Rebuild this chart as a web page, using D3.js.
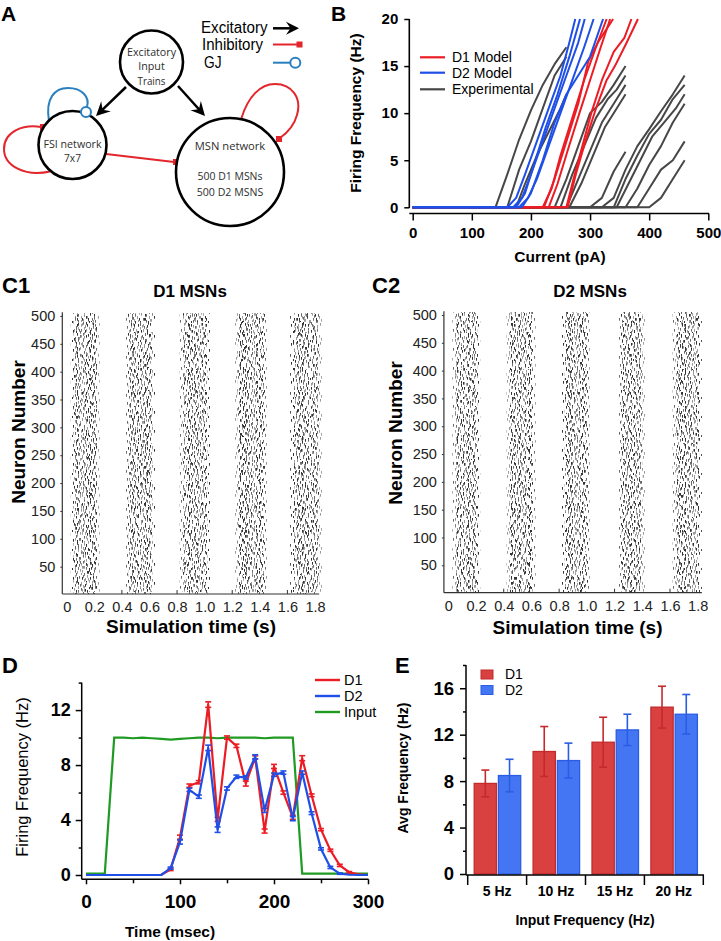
<!DOCTYPE html>
<html><head><meta charset="utf-8">
<script src="https://cdn.jsdelivr.net/npm/d3@7"></script>
<style>
body{margin:0;background:#fff;}
svg{display:block;font-family:"Liberation Sans",Arial,sans-serif;}
</style></head><body>
<svg id="fig" width="721" height="941"></svg>
<script>
// ================= DATA =================
// Panel A (schematic)
const excLines = ["Excitatory","Input","Trains"];
const fsiLines = ["FSI network","7x7"];
const msnLines = ["MSN network","500 D1 MSNs","500 D2 MSNS"];
const legendALabels = ["Excitatory","Inhibitory","GJ"];

// Panel B: f-I curves [current pA, firing Hz]
const bXTicks = [0,100,200,300,400,500];
const bYTicks = [0,5,10,15,20];
const bLegend = ["D1 Model","D2 Model","Experimental"];
const experimentalCurves = [
  [[0,0],[140,0],[160,3.5],[180,7.2],[200,10.3],[220,13],[240,15.2],[260,17]],
  [[0,0],[160,0],[180,4],[200,7],[220,10.5],[240,14],[260,16]],
  [[0,0],[175,0],[190,2.5],[210,5.5],[230,8],[250,10.5],[260,12]],
  [[0,0],[240,0],[260,3],[280,6.5],[300,10],[320,11.2],[340,13],[360,15]],
  [[0,0],[250,0],[270,3.5],[290,6.5],[310,9.5],[330,11.5],[345,12.5],[360,14]],
  [[0,0],[260,0],[280,3],[300,6],[320,9],[340,11],[360,13]],
  [[0,0],[265,0],[285,2.5],[305,5.5],[325,8.5],[345,10.5],[360,12]],
  [[0,0],[300,0],[320,1],[340,3.8],[360,5.9]],
  [[0,0],[320,0],[340,1],[360,4],[380,6.5],[400,8.3],[420,10.2],[440,12],[460,14]],
  [[0,0],[340,0],[360,3],[380,5.5],[400,7.8],[420,9.3],[440,11.5],[460,13]],
  [[0,0],[345,0],[365,2.5],[385,5],[405,7.5],[425,9],[445,10.5],[460,12]],
  [[0,0],[360,0],[380,2],[400,4.5],[420,6.5],[440,9],[460,11]],
  [[0,0],[380,0],[400,2],[420,4],[440,5],[460,7]],
  [[0,0],[400,0],[420,1],[440,3],[460,5]]
];
const d1ModelCurves = [
  [[0,0],[220,0],[235,2],[250,5.5],[270,9.5],[290,13.5],[310,17],[328,20]],
  [[0,0],[222,0],[240,3],[260,7],[280,11],[297,15.5],[314,17.6],[339,20]],
  [[0,0],[230,0],[245,2.5],[262,6],[282,10],[300,13.5],[318,17],[334,20]],
  [[0,0],[260,0],[272,3],[287,6.5],[302,10],[320,13.5],[340,16.5],[358,18],[370,20]],
  [[0,0],[262,0],[276,3.5],[292,7],[310,10.5],[328,13.5],[342,15],[362,17.5],[381,20]]
];
const d2ModelCurves = [
  [[0,0],[160,0],[175,1],[190,3.5],[210,7],[230,10.5],[250,14],[265,17.5],[275,20]],
  [[0,0],[175,0],[190,1.5],[205,4.5],[225,8.5],[245,12],[265,16],[283,20]],
  [[0,0],[170,0],[185,1],[200,3.5],[220,7],[240,10.5],[260,14],[280,17.5],[291,20]],
  [[0,0],[180,0],[195,1],[210,3],[230,6.5],[250,10],[270,13.5],[290,17],[306,20]],
  [[0,0],[185,0],[200,1.5],[220,5],[240,9],[260,12],[280,14],[300,16],[322,20]]
];

// Panel C: raster burst windows [start s, end s] (neurons 1..500)
const rasterXTicks = [0,0.2,0.4,0.6,0.8,1.0,1.2,1.4,1.6,1.8];
const rasterYTicks = [50,100,150,200,250,300,350,400,450,500];
const d1Bursts = [[0.05,0.22],[0.45,0.62],[0.84,1.02],[1.24,1.43],[1.64,1.83]];
const d2Bursts = [[0.05,0.21],[0.44,0.61],[0.84,1.00],[1.25,1.40],[1.64,1.81]];

// Panel D: time courses
const timeMs = [0,10,20,30,40,50,60,70,80,90,100,110,120,130,140,150,160,170,180,190,200,210,220,230,240,250,260,270,280,290,300];
const d1Rate = [0,0,0,0,0,0,0,0,0.02,0.4,2.75,6.5,6.75,12.4,4.05,10.0,9.4,6.65,8.55,3.2,7.9,6.0,4.2,8.5,5.8,3.3,1.8,0.7,0.2,0.05,0];
const d1Err  = [0,0,0,0,0,0,0,0,0,0.08,0.15,0.12,0.12,0.2,0.15,0.12,0.12,0.18,0.12,0.15,0.15,0.12,0.15,0.18,0.1,0.08,0.08,0.08,0.05,0,0];
const d2Rate = [0,0,0,0,0,0,0,0,0,0.5,2.4,6.2,5.7,9.25,3.3,6.3,7.15,7.1,8.6,4.7,7.3,7.45,4.1,7.45,4.5,1.9,0.55,0.1,0.02,0,0];
const d2Err  = [0,0,0,0,0,0,0,0,0,0.08,0.15,0.12,0.12,0.2,0.2,0.12,0.12,0.12,0.15,0.15,0.12,0.12,0.15,0.12,0.1,0.08,0.08,0.05,0,0,0];
const inputRate = [0.1,0.1,0.1,10.0,10.0,9.95,10.0,9.95,9.9,9.85,9.9,9.95,10.0,10.0,9.95,10.0,10.0,10.0,10.0,9.95,10.0,10.0,10.0,0.1,0.1,0.1,0.1,0.1,0.1,0.1,0.1];
const dLegend = ["D1","D2","Input"];
const dXTicks = [0,100,200,300];
const dYTicks = [0,4,8,12];

// Panel E: average frequency
const inputFreqs = ["5 Hz","10 Hz","15 Hz","20 Hz"];
const eSeries = ["D1","D2"];
const d1Avg = [7.8,10.55,11.35,14.37];
const d1AvgErr = [1.15,2.15,2.15,1.8];
const d2Avg = [8.48,9.77,12.41,13.76];
const d2AvgErr = [1.4,1.5,1.35,1.7];
const eYTicks = [0,4,8,12,16];

// ================= STYLE / TEXTURE =================
const C = {red:"#ec1c24", blue:"#1f4fe6", gray:"#474747", green:"#1f9a22",
  barRed:"#d94141", barRedS:"#c42a2c", barBlue:"#4476f4", barBlueS:"#2a5ce4",
  diagRed:"#e3262c", diagBlue:"#2a7fbf"};
// hand-placed dash positions of the raster texture tiles (pure texture, not data)
const tileA = [[3,2],[11,0],[17,4],[26,1],[29,7],[6,8],[14,9],[21,6],[1,13],[9,15],[24,12],[18,14],[28,17],[4,19],[13,20],[20,22],[7,24],[26,23],[16,27],[2,28],[10,30],[23,29],[29,32],[5,34],[14,35],[19,33],[27,36],[12,5],[22,18],[0,24],[8,11],[25,9],[15,16],[3,31],[18,2],[30,26],[11,25],[6,3],[20,11],[27,14],[9,21],[16,31],[23,34],[1,36],[13,13],[24,26],[4,15],[19,28],[10,36],[28,4],[7,29],[15,22],[21,0],[25,20],[2,7],[17,9],[12,33],[29,12],[8,18],[22,31]];
const tileB = [[2,1],[8,3],[14,0],[5,7],[11,6],[16,9],[1,12],[7,14],[13,12],[4,17],[10,16],[15,15],[9,10]];
const tileC = [[1,2],[7,0],[13,5],[17,1],[4,9],[10,7],[16,12],[2,15],[8,14],[12,19],[18,18],[5,21],[14,10],[0,6],[9,3],[15,22]];
const dashShades = ["#333333","#6a6a6a","#9a9a9a"];

const svg = d3.select("#fig");
const defs = svg.append("defs");
function makePattern(id,w,h,pts){
  const p = defs.append("pattern").attr("id",id).attr("patternUnits","userSpaceOnUse").attr("width",w).attr("height",h);
  p.selectAll("rect").data(pts).join("rect")
    .attr("x",d=>d[0]).attr("y",d=>d[1]).attr("width",1).attr("height",2.7)
    .attr("fill",(d,i)=> dashShades[i%3]);
}
makePattern("rasA",31,37,tileA);
makePattern("rasB",17,19,tileB);
makePattern("rasC",19,23,tileC);

function label(g,x,y,txt,size,weight,anchor){
  return g.append("text").attr("x",x).attr("y",y).text(txt)
    .attr("font-size",size).attr("font-weight",weight||"normal")
    .attr("text-anchor",anchor||"start").attr("fill","#000");
}
function vlabel(g,x,y,txt,size,weight){
  return g.append("text").attr("transform",`translate(${x},${y}) rotate(-90)`).text(txt)
    .attr("font-size",size).attr("font-weight",weight||"normal").attr("text-anchor","middle").attr("fill","#000");
}
function styleAxis(g,size,weight){
  g.select(".domain").remove();
  g.selectAll(".tick line").attr("stroke","#000").attr("stroke-width",1.5);
  g.selectAll(".tick text").attr("font-size",size).attr("font-weight",weight).attr("fill","#000")
    .attr("font-family","'Liberation Sans',Arial,sans-serif");
}

// ================= PANEL A =================
(function(){
  const g = svg.append("g");
  label(g,1,20.5,"A",21,"bold");
  const L = {exc:{cx:151.5,cy:62,r:31.5}, fsi:{cx:72.5,cy:145,r:34}, msn:{cx:230,cy:172,r:54}};
  g.append("path").attr("d","M50,171.5 C25,177 4,166 4,149 C4,131 24,124 41,127")
    .attr("fill","none").attr("stroke",C.diagRed).attr("stroke-width",2);
  g.append("rect").attr("x",40).attr("y",124).attr("width",6).attr("height",6).attr("fill",C.diagRed);
  g.append("path").attr("d","M49,121 C45,98 55,88 68,88 C82,88 90,97 87,107")
    .attr("fill","none").attr("stroke",C.diagBlue).attr("stroke-width",2);
  g.append("line").attr("x1",106).attr("y1",154).attr("x2",174).attr("y2",162)
    .attr("stroke",C.diagRed).attr("stroke-width",2);
  g.append("rect").attr("x",173).attr("y",159).attr("width",6).attr("height",6).attr("fill",C.diagRed);
  g.append("path").attr("d","M241.5,118 C248,97 260,84 275,84 C292,84 302,98 297,115 C294,126 287,133 280,138")
    .attr("fill","none").attr("stroke",C.diagRed).attr("stroke-width",2);
  g.append("rect").attr("x",276).attr("y",136).attr("width",6).attr("height",6).attr("fill",C.diagRed);
  function arrow(x1,y1,x2,y2,s){
    const a = Math.atan2(y2-y1,x2-x1);
    const bx = x2 - Math.cos(a)*s*0.6, by = y2 - Math.sin(a)*s*0.6;
    g.append("line").attr("x1",x1).attr("y1",y1).attr("x2",bx).attr("y2",by).attr("stroke","#000").attr("stroke-width",2.5);
    const pts = [[0,0],[-s,-s*0.5],[-s*0.65,0],[-s,s*0.5]].map(p=>[
      x2 + p[0]*Math.cos(a) - p[1]*Math.sin(a), y2 + p[0]*Math.sin(a) + p[1]*Math.cos(a)]);
    g.append("path").attr("d","M"+pts.map(p=>p.join(",")).join("L")+"Z").attr("fill","#000");
  }
  arrow(126,87,96,116,14);
  arrow(178,86,205,116,14);
  Object.values(L).forEach(n=>{
    g.append("circle").attr("cx",n.cx).attr("cy",n.cy).attr("r",n.r).attr("fill","#fff").attr("stroke","#000").attr("stroke-width",2.6);
  });
  g.append("circle").attr("cx",86).attr("cy",112).attr("r",5).attr("fill","#fff").attr("stroke",C.diagBlue).attr("stroke-width",2);
  function nodeText(x,y,txt,w){
    g.append("text").attr("x",x).attr("y",y).text(txt).attr("text-anchor","middle")
      .attr("font-family","'Open Sans',sans-serif").attr("font-size",11).attr("fill","#2e2e2e")
      .attr("textLength",w).attr("lengthAdjust","spacingAndGlyphs");
  }
  const excY=[55.5,70,85], excW=[49,26.5,28];
  excLines.forEach((t,i)=>nodeText(151.5,excY[i],t,excW[i]));
  const fsiY=[147.5,162], fsiW=[58,17];
  fsiLines.forEach((t,i)=>nodeText(72.5,fsiY[i],t,fsiW[i]));
  const msnY=[149.5,179.5,195.5], msnW=[70.5,65,66.5];
  msnLines.forEach((t,i)=>nodeText(230,msnY[i],t,msnW[i]));
  const lx=[201,202,204], ly=[33.3,50,68.3], lw=[66.5,61,17.5];
  legendALabels.forEach((t,i)=>{
    g.append("text").attr("x",lx[i]).attr("y",ly[i]).text(t).attr("font-size",16).attr("fill","#000")
      .attr("textLength",lw[i]).attr("lengthAdjust","spacingAndGlyphs");
  });
  arrow(273,28.3,299,28.3,13);
  g.append("line").attr("x1",273).attr("y1",44.5).attr("x2",298).attr("y2",44.5).attr("stroke",C.diagRed).attr("stroke-width",2);
  g.append("rect").attr("x",296.5).attr("y",41.5).attr("width",6).attr("height",6).attr("fill",C.diagRed);
  g.append("line").attr("x1",273).attr("y1",62.7).attr("x2",290).attr("y2",62.7).attr("stroke",C.diagBlue).attr("stroke-width",2);
  g.append("circle").attr("cx",295.3).attr("cy",62.7).attr("r",5).attr("fill","#fff").attr("stroke",C.diagBlue).attr("stroke-width",2);
})();

// ================= PANEL B =================
(function(){
  const g = svg.append("g");
  label(g,331,20.5,"B",21,"bold");
  const x = d3.scaleLinear().domain([0,500]).range([412.7,708.3]);
  const y = d3.scaleLinear().domain([0,20]).range([207.3,19]);
  const line = d3.line().x(d=>x(d[0])).y(d=>y(d[1]));
  const draw = (curves,col)=> g.append("g").selectAll("path").data(curves).join("path")
      .attr("d",line).attr("fill","none").attr("stroke",col).attr("stroke-width",2).attr("stroke-linejoin","round");
  draw(experimentalCurves,C.gray);
  draw(d1ModelCurves,C.red);
  draw(d2ModelCurves,C.blue);
  g.append("line").attr("x1",409.3).attr("x2",409.3).attr("y1",19).attr("y2",208).attr("stroke","#000").attr("stroke-width",1.6);
  g.append("line").attr("x1",409.3).attr("x2",709).attr("y1",213.5).attr("y2",213.5).attr("stroke","#000").attr("stroke-width",1.6);
  const ya = g.append("g").attr("transform","translate(409.3,0)")
    .call(d3.axisLeft(y).tickValues(bYTicks).tickSize(5).tickPadding(6));
  styleAxis(ya,15,"bold");
  const xa = g.append("g").attr("transform","translate(0,213.5)")
    .call(d3.axisBottom(x).tickValues(bXTicks).tickSize(7).tickPadding(7));
  styleAxis(xa,15,"bold");
  label(g,560,262,"Current (pA)",15.5,"bold","middle");
  vlabel(g,361,113,"Firing Frequency (Hz)",15.5,"bold");
  const cols=[C.red,C.blue,C.gray], lyy=[57.3,72.7,89.3];
  bLegend.forEach((t,i)=>{
    g.append("line").attr("x1",420).attr("x2",445).attr("y1",lyy[i]).attr("y2",lyy[i]).attr("stroke",cols[i]).attr("stroke-width",2.2);
    label(g,452,lyy[i]+5,t,14,"normal");
  });
})();

// ================= PANEL C =================
function rasterPanel(o){
  const g = svg.append("g");
  const x = d3.scaleLinear().domain([0,1.8]).range([o.x0,o.x1]);
  const y = d3.scaleLinear().domain([0,505]).range([o.yb,o.yb-505*o.k]);
  o.bursts.forEach(b=>{
    g.append("rect").attr("x",x(b[0]-0.02)).attr("width",x(b[1]+0.02)-x(b[0]-0.02))
      .attr("y",y(505)).attr("height",y(1)-y(505)).attr("fill","url(#rasB)");
    g.append("rect").attr("x",x(b[0])).attr("width",x(b[1])-x(b[0]))
      .attr("y",y(505)).attr("height",y(1)-y(505)).attr("fill","url(#rasA)");
    g.append("rect").attr("x",x(b[0]+0.01)).attr("width",x(b[1]-0.01)-x(b[0]+0.01))
      .attr("y",y(505)).attr("height",y(1)-y(505)).attr("fill","url(#rasC)");
  });
  const ax = o.x0-4.4;
  g.append("line").attr("x1",ax).attr("x2",ax).attr("y1",y(505)-1).attr("y2",o.axY).attr("stroke","#333").attr("stroke-width",1.2);
  g.append("line").attr("x1",ax).attr("x2",x(1.83)).attr("y1",o.axY).attr("y2",o.axY).attr("stroke","#333").attr("stroke-width",1.2);
  const ya = g.append("g").attr("transform",`translate(${ax},0)`)
    .call(d3.axisLeft(y).tickValues(rasterYTicks).tickSize(2).tickPadding(5));
  styleAxis(ya,14.5,"normal");
  ya.selectAll(".tick line").attr("stroke-width",1).attr("stroke","#333");
  ya.selectAll(".tick text").attr("fill","#222");
  const xa = g.append("g").attr("transform",`translate(0,${o.axY})`)
    .call(d3.axisBottom(x).tickValues(rasterXTicks).tickSize(0).tickPadding(8).tickFormat(d=>d===0?"0":d3.format(".1f")(d)));
  styleAxis(xa,14.5,"normal");
  xa.selectAll(".tick text").attr("fill","#222");
  [0.4,0.8,1.2,1.6].forEach(v=>{
    g.append("line").attr("x1",x(v)).attr("x2",x(v)).attr("y1",o.axY).attr("y2",o.axY-4).attr("stroke","#333").attr("stroke-width",1);
  });
  label(g,o.lx,293,o.letter,22,"bold");
  label(g,o.tx,297,o.title,17,"bold","middle");
  vlabel(g,o.vx,o.vy,"Neuron Number",19,"bold");
  label(g,o.sx,o.sy,"Simulation time (s)",19,"bold","middle");
}
rasterPanel({bursts:d1Bursts,x0:66.7,x1:315,yb:594.5,k:0.5571,axY:594,letter:"C1",lx:2,title:"D1 MSNs",tx:190,vx:25,vy:432,sx:191,sy:632.7});
rasterPanel({bursts:d2Bursts,x0:448.3,x1:697.7,yb:593.1,k:0.5562,axY:592.7,letter:"C2",lx:372,title:"D2 MSNs",tx:590,vx:402,vy:433,sx:577.5,sy:634});

// ================= PANEL D =================
(function(){
  const g = svg.append("g");
  label(g,2,673,"D",22,"bold");
  const x = d3.scaleLinear().domain([0,300]).range([86,368]);
  const y = d3.scaleLinear().domain([0,14]).range([875,682.6]);
  g.append("line").attr("x1",81.7).attr("x2",81.7).attr("y1",682.6).attr("y2",879.3).attr("stroke","#000").attr("stroke-width",1.5);
  g.append("line").attr("x1",81.7).attr("x2",368.5).attr("y1",879.3).attr("y2",879.3).attr("stroke","#000").attr("stroke-width",1.5);
  const ya = g.append("g").attr("transform","translate(81.7,0)").call(d3.axisLeft(y).tickValues(dYTicks).tickSize(6).tickPadding(5));
  styleAxis(ya,18,"bold");
  const ym = g.append("g").attr("transform","translate(81.7,0)").call(d3.axisLeft(y).tickValues([2,6,10,14]).tickSize(3).tickFormat(""));
  styleAxis(ym,10,"normal");
  const xa = g.append("g").attr("transform","translate(0,879.3)").call(d3.axisBottom(x).tickValues(dXTicks).tickSize(5).tickPadding(10));
  styleAxis(xa,19,"bold");
  const xm = g.append("g").attr("transform","translate(0,879.3)").call(d3.axisBottom(x).tickValues([50,150,250]).tickSize(4).tickFormat(""));
  styleAxis(xm,10,"normal");
  label(g,170,937,"Time (msec)",15.5,"bold","middle");
  vlabel(g,28,777,"Firing Frequency (Hz)",16.5,"normal");
  const line = d3.line().x((d,i)=>x(timeMs[i])).y(d=>y(d));
  g.append("path").attr("d",line(inputRate)).attr("fill","none").attr("stroke",C.green).attr("stroke-width",2.2);
  function series(vals,errs,col){
    g.append("path").attr("d",line(vals)).attr("fill","none").attr("stroke",col).attr("stroke-width",2.2).attr("stroke-linejoin","round");
    vals.forEach((v,i)=>{
      if(!errs[i]) return;
      const cx=x(timeMs[i]), y1=y(v-errs[i]), y2=y(v+errs[i]);
      g.append("line").attr("x1",cx).attr("x2",cx).attr("y1",y1).attr("y2",y2).attr("stroke",col).attr("stroke-width",1.6);
      [y1,y2].forEach(yy=>g.append("line").attr("x1",cx-3).attr("x2",cx+3).attr("y1",yy).attr("y2",yy).attr("stroke",col).attr("stroke-width",1.6));
    });
  }
  series(d1Rate,d1Err,C.red);
  series(d2Rate,d2Err,C.blue);
  const cols=[C.red,C.blue,C.green], lyy=[680,696,712];
  dLegend.forEach((t,i)=>{
    g.append("line").attr("x1",315).attr("x2",340).attr("y1",lyy[i]).attr("y2",lyy[i]).attr("stroke",cols[i]).attr("stroke-width",2.4);
    label(g,344,lyy[i]+5,t,14.5,"normal");
  });
})();

// ================= PANEL E =================
(function(){
  const g = svg.append("g");
  label(g,395,673,"E",22,"bold");
  const x = d3.scaleBand().domain(inputFreqs).range([467.7,703.3]);
  const xi = d3.scaleBand().domain(eSeries).range([6.5,53]).paddingInner(0.08);
  const y = d3.scaleLinear().domain([0,18]).range([874,665]);
  const vals = {D1:d1Avg, D2:d2Avg}, errs = {D1:d1AvgErr, D2:d2AvgErr};
  const fill = {D1:C.barRed, D2:C.barBlue}, stroke = {D1:C.barRedS, D2:C.barBlueS};
  eSeries.forEach(s=>{
    inputFreqs.forEach((c,i)=>{
      const bx = x(c)+xi(s), bw = xi.bandwidth(), v = vals[s][i], e = errs[s][i];
      g.append("rect").attr("x",bx).attr("y",y(v)).attr("width",bw).attr("height",y(0)-y(v))
        .attr("fill",fill[s]).attr("stroke",stroke[s]).attr("stroke-width",1.3);
      const cx = bx+bw/2;
      g.append("line").attr("x1",cx).attr("x2",cx).attr("y1",y(v-e)).attr("y2",y(v+e)).attr("stroke",stroke[s]).attr("stroke-width",1.6);
      [v-e,v+e].forEach(t=>g.append("line").attr("x1",cx-4).attr("x2",cx+4).attr("y1",y(t)).attr("y2",y(t)).attr("stroke",stroke[s]).attr("stroke-width",1.6));
    });
  });
  g.append("line").attr("x1",466).attr("x2",466).attr("y1",665).attr("y2",875).attr("stroke","#000").attr("stroke-width",1.5);
  g.append("line").attr("x1",466).attr("x2",704).attr("y1",875).attr("y2",875).attr("stroke","#000").attr("stroke-width",1.5);
  const ya = g.append("g").attr("transform","translate(466,0)").call(d3.axisLeft(y).tickValues(eYTicks).tickSize(6).tickPadding(6));
  styleAxis(ya,18.5,"bold");
  const ym = g.append("g").attr("transform","translate(466,0)").call(d3.axisLeft(y).tickValues([2,6,10,14,18]).tickSize(3).tickFormat(""));
  styleAxis(ym,10,"normal");
  const bounds = inputFreqs.map(c=>x(c)).concat([x(inputFreqs[3])+x.bandwidth()]);
  bounds.forEach(bx=>g.append("line").attr("x1",bx).attr("x2",bx).attr("y1",875).attr("y2",885).attr("stroke","#000").attr("stroke-width",1.5));
  inputFreqs.forEach(c=>label(g,x(c)+x.bandwidth()/2,896,c,14,"bold","middle"));
  label(g,585,925,"Input Frequency (Hz)",14,"bold","middle");
  vlabel(g,408,768,"Avg Frequency (Hz)",14,"bold");
  const ly=[670,685.5];
  eSeries.forEach((s,i)=>{
    g.append("rect").attr("x",481).attr("y",ly[i]).attr("width",12).attr("height",9).attr("fill",fill[s]).attr("stroke",stroke[s]).attr("stroke-width",1);
    label(g,505,ly[i]+9,s,14,"normal");
  });
})();
</script>
</body></html>
